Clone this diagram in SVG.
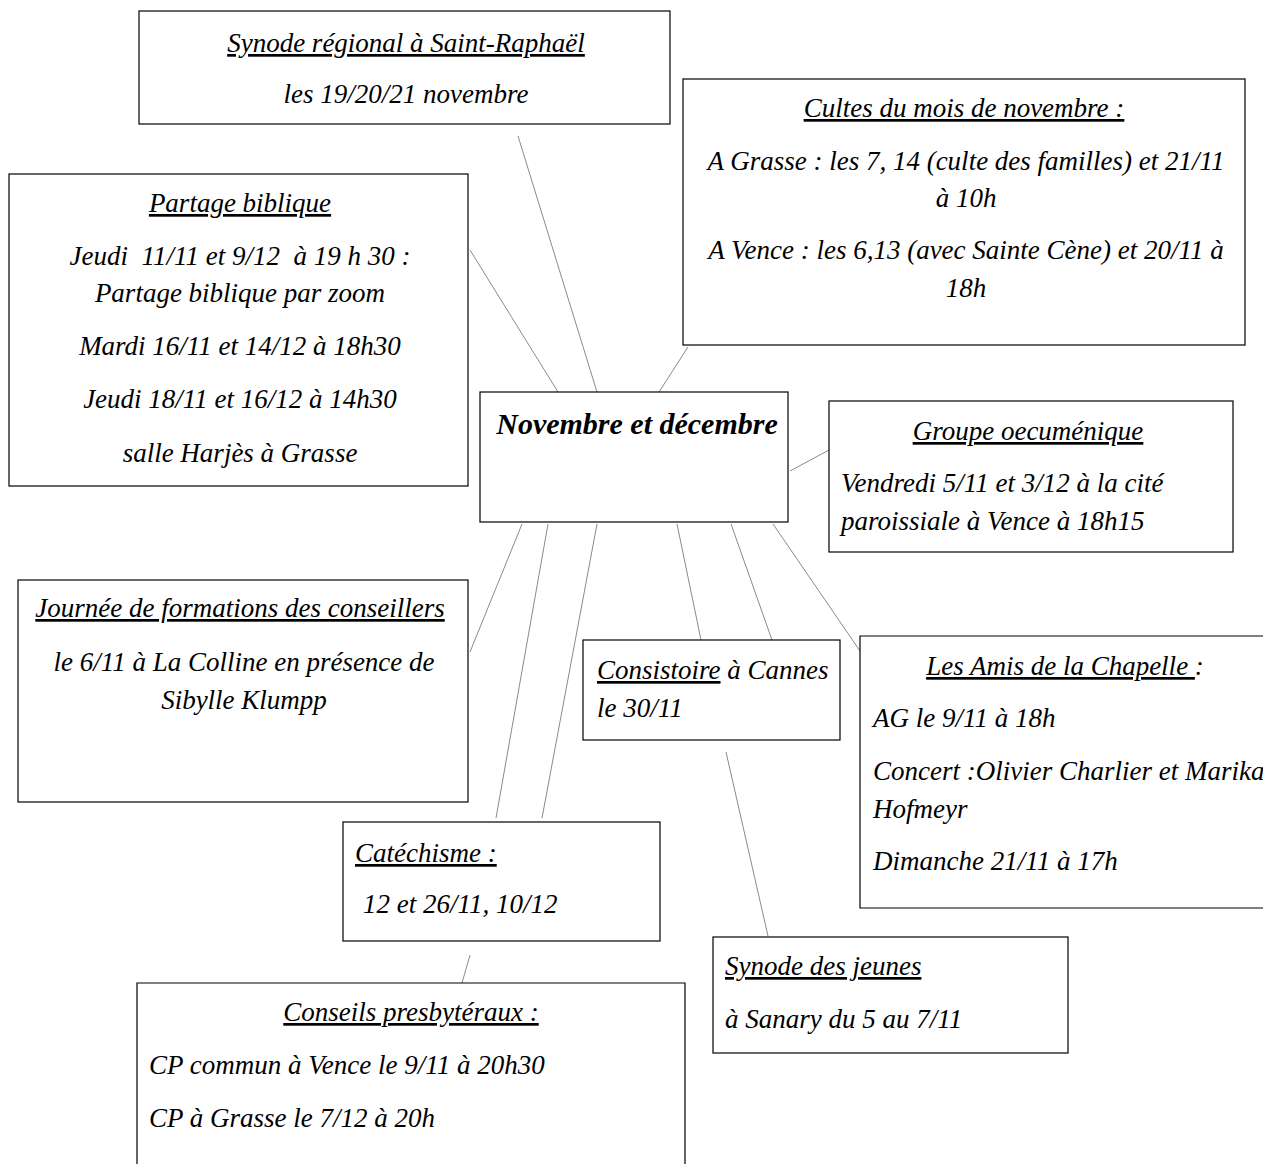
<svg xmlns="http://www.w3.org/2000/svg" width="1263" height="1164" viewBox="0 0 1263 1164">
<style>
.box{fill:#fff;stroke:#000;stroke-width:1.2}
.t{font-family:"Liberation Serif",serif;font-style:italic;font-size:27px;fill:#000}
.c{text-anchor:middle}
.u{text-decoration:underline}
.conn line{stroke:#8a8a8a;stroke-width:1}
</style>
<rect width="1263" height="1164" fill="#fff"/>
<g id="connectors" class="conn">
<line x1="518" y1="136" x2="597" y2="392"/>
<line x1="470" y1="250" x2="558" y2="392"/>
<line x1="688" y1="347" x2="659" y2="392"/>
<line x1="790" y1="471" x2="829" y2="450"/>
<line x1="522" y1="524" x2="470" y2="652"/>
<line x1="548" y1="524" x2="496" y2="818"/>
<line x1="597" y1="524" x2="542" y2="818"/>
<line x1="677" y1="524" x2="701" y2="640"/>
<line x1="731" y1="524" x2="772" y2="640"/>
<line x1="773" y1="524" x2="860" y2="651"/>
<line x1="470" y1="955" x2="462" y2="983"/>
<line x1="726" y1="752" x2="768" y2="936"/>
</g>
<g id="synode-regional">
<rect class="box" x="139" y="11" width="531" height="113"/>
<text class="t c u" x="406" y="52">Synode régional à Saint-Raphaël</text>
<text class="t c" x="406" y="103">les 19/20/21 novembre</text>
</g>
<g id="cultes">
<rect class="box" x="683" y="79" width="562" height="266"/>
<text class="t c u" x="964" y="117">Cultes du mois de novembre :</text>
<text class="t c" x="966" y="170">A Grasse : les 7, 14 (culte des familles) et 21/11</text>
<text class="t c" x="966" y="207">à 10h</text>
<text class="t c" x="966" y="259">A Vence : les 6,13 (avec Sainte Cène) et 20/11 à</text>
<text class="t c" x="966" y="297">18h</text>
</g>
<g id="partage">
<rect class="box" x="9" y="174" width="459" height="312"/>
<text class="t c u" x="240" y="212">Partage biblique</text>
<text class="t c" x="240" y="265" xml:space="preserve">Jeudi  11/11 et 9/12  à 19 h 30 :</text>
<text class="t c" x="240" y="302">Partage biblique par zoom</text>
<text class="t c" x="240" y="355">Mardi 16/11 et 14/12 à 18h30</text>
<text class="t c" x="240" y="408">Jeudi 18/11 et 16/12 à 14h30</text>
<text class="t c" x="240" y="462">salle Harjès à Grasse</text>
</g>
<g id="centre">
<rect class="box" x="480" y="392" width="308" height="130"/>
<text class="t c" x="637" y="434" style="font-size:30px;font-weight:bold">Novembre et décembre</text>
</g>
<g id="groupe">
<rect class="box" x="829" y="401" width="404" height="151"/>
<text class="t c u" x="1028" y="440">Groupe oecuménique</text>
<text class="t" x="841" y="492">Vendredi 5/11 et 3/12 à la cité</text>
<text class="t" x="841" y="530">paroissiale à Vence à 18h15</text>
</g>
<g id="journee">
<rect class="box" x="18" y="580" width="450" height="222"/>
<text class="t c u" x="240" y="617">Journée de formations des conseillers</text>
<text class="t c" x="244" y="671">le 6/11 à La Colline en présence de</text>
<text class="t c" x="244" y="709">Sibylle Klumpp</text>
</g>
<g id="consistoire">
<rect class="box" x="583" y="640" width="257" height="100"/>
<text class="t" x="597" y="679"><tspan class="u">Consistoire</tspan> à Cannes</text>
<text class="t" x="597" y="717">le 30/11</text>
</g>
<g id="amis">
<path class="box" d="M1263,636 H860 V908 H1263"/>
<text class="t c" x="1065" y="675"><tspan class="u">Les Amis de la Chapelle </tspan>:</text>
<text class="t" x="873" y="727">AG le 9/11 à 18h</text>
<text class="t" x="873" y="780">Concert :Olivier Charlier et Marika</text>
<text class="t" x="873" y="818">Hofmeyr</text>
<text class="t" x="873" y="870">Dimanche 21/11 à 17h</text>
</g>
<g id="catechisme">
<rect class="box" x="343" y="822" width="317" height="119"/>
<text class="t u" x="355" y="862">Catéchisme :</text>
<text class="t" x="363" y="913">12 et 26/11, 10/12</text>
</g>
<g id="synode-jeunes">
<rect class="box" x="713" y="937" width="355" height="116"/>
<text class="t u" x="725" y="975">Synode des jeunes</text>
<text class="t" x="725" y="1028">à Sanary du 5 au 7/11</text>
</g>
<g id="conseils">
<path class="box" d="M137,1164 V983 H685 V1164"/>
<text class="t c u" x="411" y="1021">Conseils presbytéraux :</text>
<text class="t" x="149" y="1074">CP commun à Vence le 9/11 à 20h30</text>
<text class="t" x="149" y="1127">CP à Grasse le 7/12 à 20h</text>
</g>
</svg>
